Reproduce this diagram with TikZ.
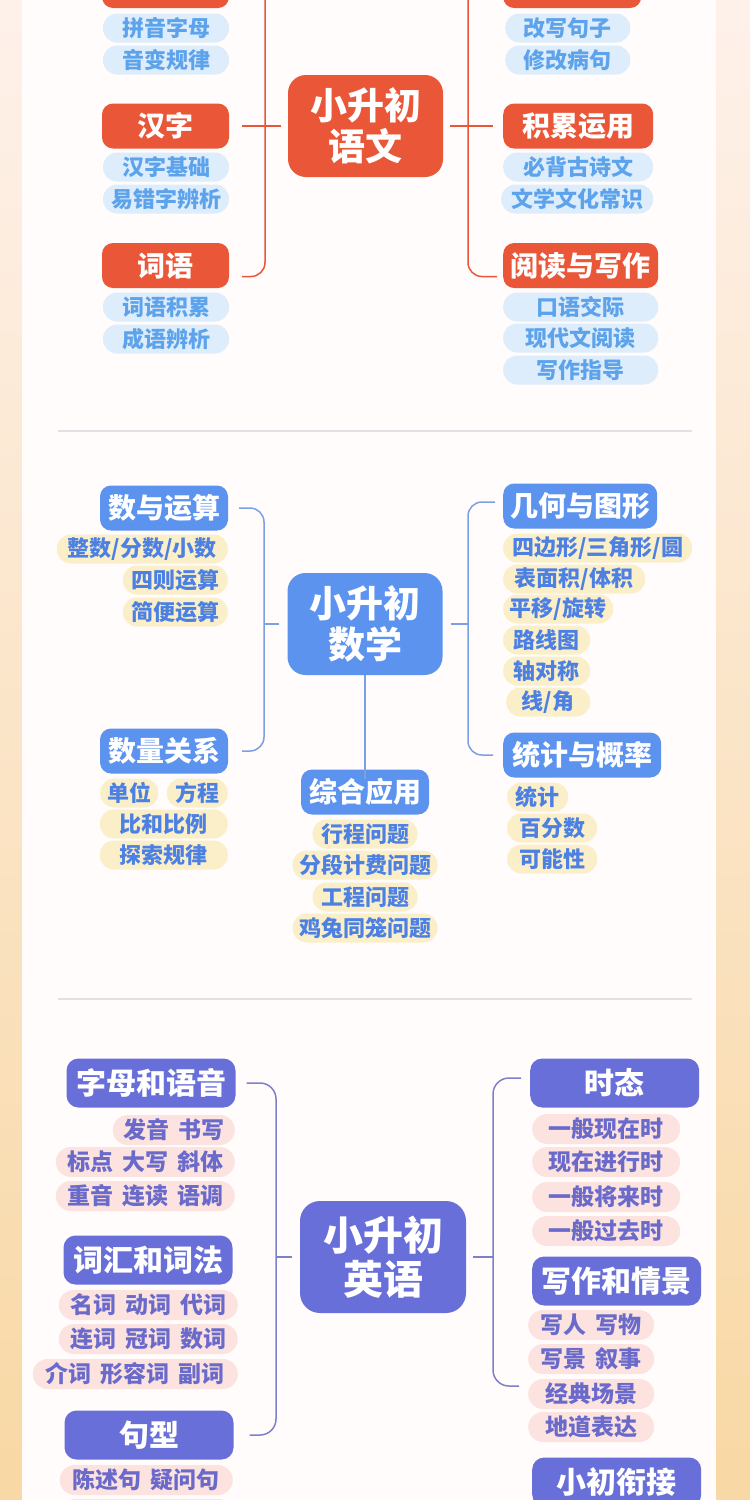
\documentclass[tikz,border=0pt]{standalone}
\usepackage{fontspec}
\newfontfamily\cjk{Noto Sans CJK SC}[BoldFont={Noto Sans CJK SC Black}]

\definecolor{bgtop}{HTML}{FEF1EA}
\definecolor{bgbot}{HTML}{F8D8A4}
\definecolor{card}{HTML}{FFFCFB}
\definecolor{rule}{HTML}{E2E0E6}
% Chinese
\definecolor{yred}{HTML}{EA5638}
\definecolor{ysky}{HTML}{DDEDFC}
\definecolor{ytext}{HTML}{5DA3EC}
% Math
\definecolor{sblue}{HTML}{5C93EF}
\definecolor{scream}{HTML}{FBEFC9}
\definecolor{stext}{HTML}{4C80E3}
\definecolor{sedge}{HTML}{7BA0E3}
% English
\definecolor{epurple}{HTML}{696FD8}
\definecolor{epink}{HTML}{FCE3E0}
\definecolor{etext}{HTML}{6A6ACB}
\definecolor{eedge}{HTML}{7F80CC}

\newcommand{\wgap}{\hspace{.4em}}

\begin{document}
\begin{tikzpicture}[x=1pt, y=-1pt]

  % Styles
  \tikzset{
    mainbox/.style={fill=#1, text=white, align=center, rounded corners=18pt, inner sep=0pt,
      font=\cjk\bfseries\fontsize{37}{41}\selectfont, minimum width=155pt, minimum height=102pt},
    catbox/.style={fill=#1, text=white, rounded corners=11pt, inner sep=0pt,
      font=\cjk\bfseries\fontsize{28}{30}\selectfont, minimum height=45pt},
    subbox/.style 2 args={fill=#1, text=#2, rounded corners=14pt, inner sep=0pt,
      font=\cjk\bfseries\fontsize{22}{24}\selectfont, minimum height=29pt},
    link/.style={draw=#1, line width=1.5pt, rounded corners=14pt},
    big/.style={font=\cjk\bfseries\fontsize{40}{44}\selectfont, minimum width=166pt, minimum height=112pt, rounded corners=20pt},
    bigcat/.style={font=\cjk\bfseries\fontsize{30}{32}\selectfont, minimum height=49pt, rounded corners=12pt},
    bigsub/.style={font=\cjk\bfseries\fontsize{23}{25}\selectfont, minimum height=30pt, rounded corners=15pt}
  }

  % Background
  \useasboundingbox (0,0) rectangle (750,1500);
  \clip (0,0) rectangle (750,1500);
  \shade[top color=bgtop, bottom color=bgbot] (0,0) rectangle (750,1500);
  \fill[card] (22,-10) rectangle (716,1510);
  \draw[rule, line width=2pt] (58,431) -- (692,431);
  \draw[rule, line width=2pt] (58,999) -- (692,999);

  % --- CHINESE ---
  \begin{scope}
    % Main
    \node[mainbox=yred] (yw) at (365.5,126) {小升初\\语文};
    % Left branches
    \node[catbox=yred, minimum width=127pt] (yl1) at (165.5,-14.5) {};
    \node[catbox=yred, minimum width=127pt] (yl2) at (165.5,126) {汉字};
    \node[catbox=yred, minimum width=127pt] (yl3) at (165.5,265.5) {词语};
    \node[subbox={ysky}{ytext}, minimum width=126pt] (yl1a) at (166,28) {拼音字母};
    \node[subbox={ysky}{ytext}, minimum width=126pt] (yl1b) at (166,60) {音变规律};
    \node[subbox={ysky}{ytext}, minimum width=126pt] (yl2a) at (166,167) {汉字基础};
    \node[subbox={ysky}{ytext}, minimum width=126pt] (yl2b) at (166,199) {易错字辨析};
    \node[subbox={ysky}{ytext}, minimum width=126pt] (yl3a) at (166,307) {词语积累};
    \node[subbox={ysky}{ytext}, minimum width=126pt] (yl3b) at (166,339) {成语辨析};
    % Right branches
    \node[catbox=yred, minimum width=138pt, anchor=west] (yr1) at (503,-14.5) {};
    \node[catbox=yred, minimum width=150pt, anchor=west] (yr2) at (503,126) {积累运用};
    \node[catbox=yred, minimum width=155pt, anchor=west] (yr3) at (503,265.5) {阅读与写作};
    \node[subbox={ysky}{ytext}, minimum width=125pt, anchor=west] (yr1a) at (505,28) {改写句子};
    \node[subbox={ysky}{ytext}, minimum width=125pt, anchor=west] (yr1b) at (505,60) {修改病句};
    \node[subbox={ysky}{ytext}, minimum width=150pt, anchor=west] (yr2a) at (503,167) {必背古诗文};
    \node[subbox={ysky}{ytext}, minimum width=152pt, anchor=west] (yr2b) at (501,199) {文学文化常识};
    \node[subbox={ysky}{ytext}, minimum width=155pt, anchor=west] (yr3a) at (503,307) {口语交际};
    \node[subbox={ysky}{ytext}, minimum width=155pt, anchor=west] (yr3b) at (503,338) {现代文阅读};
    \node[subbox={ysky}{ytext}, minimum width=155pt, anchor=west] (yr3c) at (503,370) {写作指导};
    % Lines
    \coordinate (ylj) at (265,126);
    \coordinate (yrj) at (468,126);
    \draw[link=yred] ([xshift=-7pt]yw.west) -- ([xshift=13pt]yl2.east);
    \draw[link=yred] ([xshift=13pt]yl1.east) -| (ylj) |- ([xshift=13pt, yshift=-11pt]yl3.east);
    \draw[link=yred] ([xshift=7pt]yw.east) -- ([xshift=-10pt]yr2.west);
    \draw[link=yred] ([xshift=-10pt]yr1.west) -| (yrj) |- ([xshift=-6pt, yshift=-11pt]yr3.west);
  \end{scope}

  % --- MATH ---
  \begin{scope}
    % Main
    \node[mainbox=sblue] (sx) at (365,624) {小升初\\数学};
    % Left branches
    \node[catbox=sblue, minimum width=128pt] (sl1) at (164,508) {数与运算};
    \node[catbox=sblue, minimum width=128pt] (sl2) at (164,751) {数量关系};
    \node[subbox={scream}{stext}, minimum width=171pt, anchor=east] (sl1a) at (228,549) {整数/分数/小数};
    \node[subbox={scream}{stext}, minimum width=105pt, anchor=east] (sl1b) at (228,580) {四则运算};
    \node[subbox={scream}{stext}, minimum width=105pt, anchor=east] (sl1c) at (228,612) {简便运算};
    \node[subbox={scream}{stext}, minimum width=58pt, anchor=west] (sl2a) at (100,793) {单位};
    \node[subbox={scream}{stext}, minimum width=61pt, anchor=east] (sl2b) at (228,793) {方程};
    \node[subbox={scream}{stext}, minimum width=128pt, anchor=east] (sl2c) at (228,824) {比和比例};
    \node[subbox={scream}{stext}, minimum width=128pt, anchor=east] (sl2d) at (228,855) {探索规律};
    % Bottom branch
    \node[catbox=sblue, minimum width=128pt] (sb) at (365,792) {综合应用};
    \node[subbox={scream}{stext}, minimum width=105pt] (sba) at (365,834) {行程问题};
    \node[subbox={scream}{stext}, minimum width=145pt] (sbb) at (365,865) {分段计费问题};
    \node[subbox={scream}{stext}, minimum width=105pt] (sbc) at (365,897) {工程问题};
    \node[subbox={scream}{stext}, minimum width=145pt] (sbd) at (365,928) {鸡兔同笼问题};
    % Right branches
    \node[catbox=sblue, minimum width=154pt, anchor=west] (sr1) at (503,506) {几何与图形};
    \node[catbox=sblue, minimum width=158pt, anchor=west] (sr2) at (503,755) {统计与概率};
    \node[subbox={scream}{stext}, minimum width=189pt, anchor=west] (sr1a) at (503,548) {四边形/三角形/圆};
    \node[subbox={scream}{stext}, minimum width=142pt, anchor=west] (sr1b) at (503,579) {表面积/体积};
    \node[subbox={scream}{stext}, minimum width=110pt, anchor=west] (sr1c) at (503,609) {平移/旋转};
    \node[subbox={scream}{stext}, minimum width=87pt, anchor=west] (sr1d) at (503,640) {路线图};
    \node[subbox={scream}{stext}, minimum width=87pt, anchor=west] (sr1e) at (503,671) {轴对称};
    \node[subbox={scream}{stext}, minimum width=84pt, anchor=west] (sr1f) at (506,702) {线/角};
    \node[subbox={scream}{stext}, minimum width=61pt, anchor=west] (sr2a) at (507,797) {统计};
    \node[subbox={scream}{stext}, minimum width=90pt, anchor=west] (sr2b) at (507,828) {百分数};
    \node[subbox={scream}{stext}, minimum width=90pt, anchor=west] (sr2c) at (507,859) {可能性};
    % Lines
    \coordinate (slj) at (264,624);
    \coordinate (srj) at (468,624);
    \draw[link=sedge] ([xshift=-8pt]sx.west) -- (slj);
    \draw[link=sedge] ([xshift=11pt]sl1.east) -| (slj) |- ([xshift=14pt]sl2.east);
    \draw[link=sedge] ([xshift=8pt]sx.east) -- (srj);
    \draw[link=sedge] ([xshift=-8pt, yshift=4pt]sr1.west) -| (srj) |- ([xshift=-10pt]sr2.west);
    \draw[link=sedge] (sx.south) -- ([yshift=-10pt]sb.north);
  \end{scope}

  % --- ENGLISH ---
  \begin{scope}
    % Main
    \node[mainbox=epurple, big] (ex) at (383,1257) {小升初\\英语};
    % Left branches
    \node[catbox=epurple, bigcat, minimum width=169pt] (el1) at (151,1083) {字母和语音};
    \node[catbox=epurple, bigcat, minimum width=169pt] (el2) at (148,1260) {词汇和词法};
    \node[catbox=epurple, bigcat, minimum width=169pt] (el3) at (149,1435) {句型};
    \node[subbox={epink}{etext}, bigsub, minimum width=122pt, anchor=east] (el1a) at (235,1130) {发音\wgap 书写};
    \node[subbox={epink}{etext}, bigsub, minimum width=179pt, anchor=east] (el1b) at (235,1162) {标点\wgap 大写\wgap 斜体};
    \node[subbox={epink}{etext}, bigsub, minimum width=179pt, anchor=east] (el1c) at (235,1196) {重音\wgap 连读\wgap 语调};
    \node[subbox={epink}{etext}, bigsub, minimum width=179pt, anchor=east] (el2a) at (238,1305) {名词\wgap 动词\wgap 代词};
    \node[subbox={epink}{etext}, bigsub, minimum width=179pt, anchor=east] (el2b) at (238,1339) {连词\wgap 冠词\wgap 数词};
    \node[subbox={epink}{etext}, bigsub, minimum width=205pt, anchor=east] (el2c) at (238,1374) {介词\wgap 形容词\wgap 副词};
    \node[subbox={epink}{etext}, bigsub, minimum width=173pt, anchor=east] (el3a) at (233,1480) {陈述句\wgap 疑问句};
    \node[subbox={epink}{etext}, bigsub, minimum width=173pt, anchor=east] (el3b) at (233,1514) {};
    % Right branches
    \node[catbox=epurple, bigcat, minimum width=169pt, anchor=west] (er1) at (530,1083) {时态};
    \node[catbox=epurple, bigcat, minimum width=169pt, anchor=west] (er2) at (532,1281) {写作和情景};
    \node[catbox=epurple, bigcat, minimum width=169pt, anchor=west] (er3) at (532,1482) {小初衔接};
    \node[subbox={epink}{etext}, bigsub, minimum width=148pt, anchor=west] (er1a) at (532,1129) {一般现在时};
    \node[subbox={epink}{etext}, bigsub, minimum width=148pt, anchor=west] (er1b) at (532,1162) {现在进行时};
    \node[subbox={epink}{etext}, bigsub, minimum width=148pt, anchor=west] (er1c) at (532,1197) {一般将来时};
    \node[subbox={epink}{etext}, bigsub, minimum width=148pt, anchor=west] (er1d) at (532,1231) {一般过去时};
    \node[subbox={epink}{etext}, bigsub, minimum width=126pt, anchor=west] (er2a) at (528,1325) {写人\wgap 写物};
    \node[subbox={epink}{etext}, bigsub, minimum width=126pt, anchor=west] (er2b) at (528,1359) {写景\wgap 叙事};
    \node[subbox={epink}{etext}, bigsub, minimum width=126pt, anchor=west] (er2c) at (528,1394) {经典场景};
    \node[subbox={epink}{etext}, bigsub, minimum width=126pt, anchor=west] (er2d) at (528,1427) {地道表达};
    % Lines
    \coordinate (elj) at (276,1257);
    \coordinate (erj) at (493,1257);
    \draw[link=eedge] ([xshift=-8pt]ex.west) -- (elj);
    \draw[link=eedge, rounded corners=16pt] ([xshift=11pt]el1.east) -| (elj) |- ([xshift=16pt]el3.east);
    \draw[link=eedge] ([xshift=7pt]ex.east) -- (erj);
    \draw[link=eedge, rounded corners=16pt] ([xshift=-9pt, yshift=5pt]er1.west) -| (erj) |- ([xshift=-9pt, yshift=8pt]er2c.west);
  \end{scope}

\end{tikzpicture}
\end{document}
